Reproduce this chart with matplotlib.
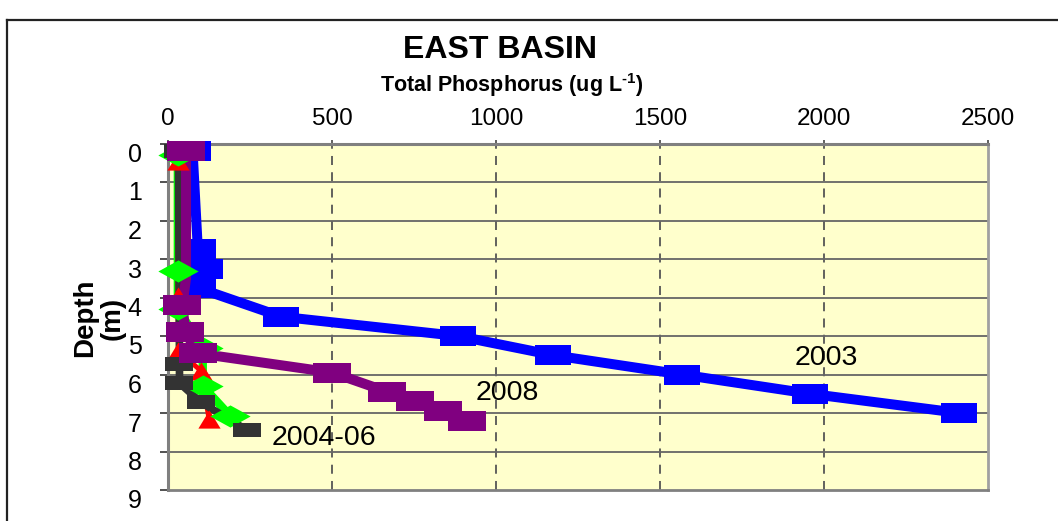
import numpy as np
import matplotlib
matplotlib.use("Agg")
import matplotlib.pyplot as plt
import matplotlib.transforms as mtransforms
from matplotlib.path import Path
from matplotlib.lines import Line2D

plt.rcParams['font.family'] = ['Liberation Sans', 'DejaVu Sans']
plt.rcParams['mathtext.fontset'] = 'custom'
plt.rcParams['mathtext.rm'] = 'Liberation Sans:bold'
plt.rcParams['mathtext.bf'] = 'Liberation Sans:bold'

# data: total phosphorus (ug/L) vs depth (m)
tp_2003 = [75, 91, 113, 91, 346, 884, 1175, 1566, 1957, 2413]
depth_2003 = [0.2, 2.75, 3.25, 3.75, 4.5, 5.0, 5.5, 6.0, 6.5, 7.0]

tp_2008 = [55, 55, 44, 53, 91, 501, 669, 753, 837, 913]
depth_2008 = [0.2, 3.5, 4.2, 4.9, 5.45, 5.95, 6.45, 6.7, 6.95, 7.2]

tp_0406_sq = [32, 35, 35, 100, 241]
depth_0406_sq = [0.2, 5.73, 6.22, 6.72, 7.45]

tp_0406_tri = [30, 30, 32, 100, 125]
depth_0406_tri = [0.45, 3.95, 5.4, 5.9, 7.15]

tp_0406_dia = [30, 30, 30, 106, 106, 189]
depth_0406_dia = [0.3, 3.3, 4.3, 5.3, 6.3, 7.07]

x_ticks = [0, 500, 1000, 1500, 2000, 2500]
y_ticks = list(range(10))

labels = ["2003", "2008", "2004-06"]
label_pos = [(2008, 5.56), (1034, 6.47), (474, 7.64)]


def rect_marker(a):
    return Path([(-1, -a), (1, -a), (1, a), (-1, a), (-1, -a)],
                [Path.MOVETO, Path.LINETO, Path.LINETO, Path.LINETO, Path.CLOSEPOLY])


def diamond_marker(a):
    return Path([(-1, 0), (0, -a), (1, 0), (0, a), (-1, 0)],
                [Path.MOVETO, Path.LINETO, Path.LINETO, Path.LINETO, Path.CLOSEPOLY])


def tri_marker(a):
    return Path([(0, a), (-1, -a), (1, -a), (0, a)],
                [Path.MOVETO, Path.LINETO, Path.LINETO, Path.CLOSEPOLY])


fig = plt.figure(figsize=(10.58, 5.21), dpi=100)
ax = fig.add_axes([168 / 1058, 1 - 490 / 521, 820 / 1058, (490 - 143.5) / 521])
ax.set_facecolor('#FFFFCC')

# grid
for v in x_ticks[1:-1]:
    ax.axvline(v, color='#555555', lw=1.3, ls=(0, (5, 4)), zorder=1)
for d in y_ticks[1:-1]:
    ax.axhline(d, color='#666666', lw=1.3, zorder=1)

# series (lines and markers at separate layers, as in the original stacking)
ax.plot(tp_2003, depth_2003, color='#0000FF', lw=7.2, marker=rect_marker(0.57),
        ms=26, mew=0, zorder=3, clip_on=False)
ax.plot(tp_0406_dia, depth_0406_dia, color='#00FF00', lw=6, zorder=3.8, clip_on=False)
ax.plot(tp_0406_tri, depth_0406_tri, color='#FF0000', lw=3.5, zorder=3.9, clip_on=False)
ax.plot(tp_0406_sq, depth_0406_sq, color='#333333', lw=5.5, zorder=4, clip_on=False)
ax.plot(tp_2008, depth_2008, color='#800080', lw=7.2, zorder=5, clip_on=False)
ax.plot(tp_0406_tri, depth_0406_tri, ls='none', color='#FF0000', marker=tri_marker(0.82),
        ms=16, mew=0, zorder=5.5, clip_on=False)
ax.plot(tp_0406_dia, depth_0406_dia, ls='none', color='#00FF00',
        marker=diamond_marker(0.55), ms=29, mew=0, zorder=6, clip_on=False)
ax.plot(tp_0406_sq, depth_0406_sq, ls='none', color='#333333', marker=rect_marker(0.5),
        ms=20, mew=0, zorder=7, clip_on=False)
ax.plot(tp_2008, depth_2008, ls='none', color='#800080', marker=rect_marker(0.545),
        ms=27, mew=0, zorder=8, clip_on=False, markevery=[0, 2, 3, 4, 5, 6, 7, 8, 9])

for txt, (xv, yv) in zip(labels, label_pos):
    ax.text(xv, yv, txt, fontsize=20.5, ha='center', va='center', zorder=9)

ax.set_xlim(0, 2500)
ax.set_ylim(9, 0)
ax.set_xticks(x_ticks)
ax.set_yticks(y_ticks)
ax.xaxis.tick_top()
ax.tick_params(axis='x', direction='out', length=3, width=1.2, color='#444444',
               labelsize=17.5, pad=6.5)
ax.tick_params(axis='y', direction='out', length=6, width=1.2, color='#333333',
               labelsize=18, pad=13)

for side in ['left', 'top']:
    ax.spines[side].set_color('#808080')
    ax.spines[side].set_linewidth(2.2)
ax.spines['right'].set_color('#A0A0A0')
ax.spines['right'].set_linewidth(2)
ax.spines['bottom'].set_color('#808080')
ax.spines['bottom'].set_linewidth(2)

offset = mtransforms.ScaledTranslation(0, -0.09, fig.dpi_scale_trans)
for lab in ax.get_yticklabels():
    lab.set_transform(lab.get_transform() + offset)

# titles
fig.text(500 / 1058, 1 - 58 / 521, "EAST BASIN", fontsize=23, fontweight='bold',
         ha='center', va='baseline')
fig.text(512 / 1058, 1 - 92 / 521, r"Total Phosphorus (ug L$^{\text{-1}}$)",
         fontsize=15.5, fontweight='bold', ha='center', va='baseline')
fig.text(99 / 1058, 1 - 318 / 521, "Depth\n(m)", fontsize=20, fontweight='bold',
         rotation=90, ha='center', va='center', multialignment='center',
         linespacing=1.05)

# outer frame
fx = 7 / 1058
fy = 1 - 20 / 521
fig.add_artist(Line2D([fx, fx], [-0.05, fy], color='#222222', lw=1.6))
fig.add_artist(Line2D([fx, 1.05], [fy, fy], color='#222222', lw=1.6))

fig.savefig("out.png", dpi=100)
